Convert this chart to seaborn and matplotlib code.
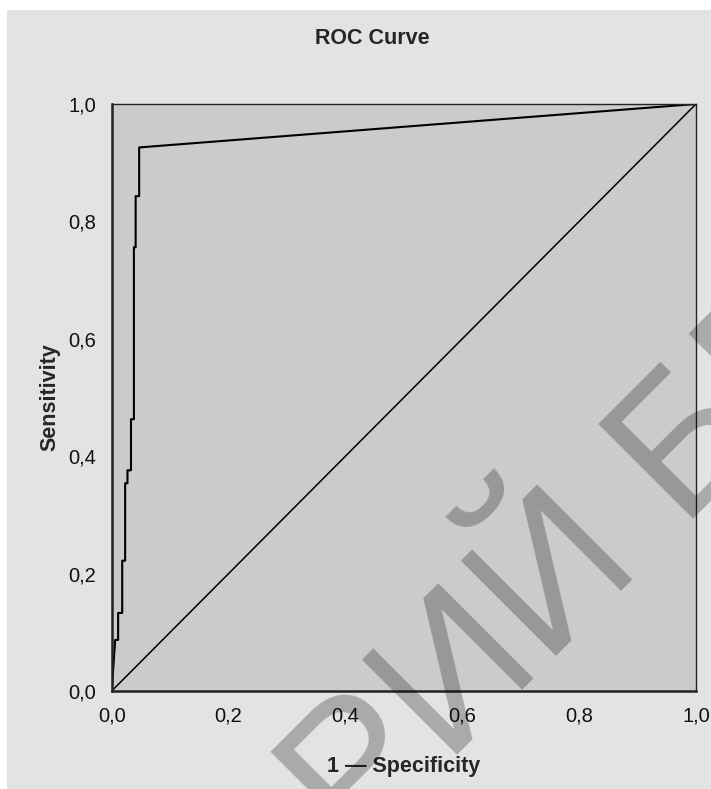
import matplotlib
matplotlib.use('Agg')
import matplotlib.pyplot as plt
import seaborn as sns
import pandas as pd
from matplotlib.patches import Rectangle

# ROC kurv: pwen yo li sou imaj la
fpr = [0.0, 0.006, 0.011, 0.011, 0.018, 0.018, 0.023, 0.023, 0.027, 0.027,
       0.033, 0.033, 0.038, 0.038, 0.041, 0.041, 0.047, 0.047, 1.0]
tpr = [0.0, 0.087, 0.087, 0.133, 0.133, 0.222, 0.222, 0.354, 0.354, 0.376,
       0.376, 0.463, 0.463, 0.756, 0.756, 0.843, 0.843, 0.926, 1.0]
ref_x = [0.0, 1.0]
ref_y = [0.0, 1.0]
ticks = [0.0, 0.2, 0.4, 0.6, 0.8, 1.0]
tick_labels = ['0,0', '0,2', '0,4', '0,6', '0,8', '1,0']
title = 'ROC Curve'
xlabel = '1 \u2014 Specificity'
ylabel = 'Sensitivity'
watermark = 'РЕПОЗИТОРИЙ БГПУ'

sns.set_style('white')
plt.rcParams['font.family'] = ['Liberation Sans', 'DejaVu Sans']

df = pd.DataFrame({'fpr': fpr, 'tpr': tpr})
ref = pd.DataFrame({'x': ref_x, 'y': ref_y})

fig = plt.figure(figsize=(7.11, 7.89), dpi=100, facecolor='white')
# fon gri a (ti bòdi blan anwo ak agoch)
fig.patches.append(Rectangle((7 / 711, 0), 1, 1 - 10 / 789, transform=fig.transFigure,
                             facecolor='#e3e3e3', edgecolor='none', zorder=-10))

ax = fig.add_axes([111.7 / 711, 1 - 691 / 789, (696 - 111.7) / 711, (691 - 104) / 789])
ax.set_facecolor('#cbcbcb')

sns.lineplot(data=ref, x='x', y='y', ax=ax, color='black', linewidth=1.1,
             sort=False, estimator=None)
sns.lineplot(data=df, x='fpr', y='tpr', ax=ax, color='black', linewidth=1.5,
             sort=False, estimator=None)

ax.set_xlim(0, 1)
ax.set_ylim(0, 1)
ax.set_xticks(ticks)
ax.set_xticklabels(tick_labels)
ax.set_yticks(ticks)
ax.set_yticklabels(tick_labels)
ax.tick_params(axis='x', length=8, width=1.0, color='#222222', pad=3,
               labelsize=14.5, labelcolor='#111111')
ax.tick_params(axis='y', length=10, width=1.0, color='#222222', pad=1,
               labelsize=14.5, labelcolor='#111111')
ax.set_xlabel(xlabel, fontsize=15.5, fontweight='bold', labelpad=22)
ax.set_ylabel(ylabel, fontsize=15.5, fontweight='bold', labelpad=6)

for side in ['left', 'bottom']:
    ax.spines[side].set_linewidth(1.8)
    ax.spines[side].set_color('#222222')
for side in ['top', 'right']:
    ax.spines[side].set_linewidth(1.0)
    ax.spines[side].set_color('#222222')

fig.text(372.5 / 711, 1 - 38 / 789, title, fontsize=15.5, fontweight='bold',
         ha='center', va='center')

# filigran
fig.text(280 / 711, 1 - 860 / 789, watermark, fontsize=140, color='black', alpha=0.25,
         rotation=45, rotation_mode='anchor', ha='center', va='center', zorder=10)

fig.savefig('out.png', dpi=100, facecolor=fig.get_facecolor())
